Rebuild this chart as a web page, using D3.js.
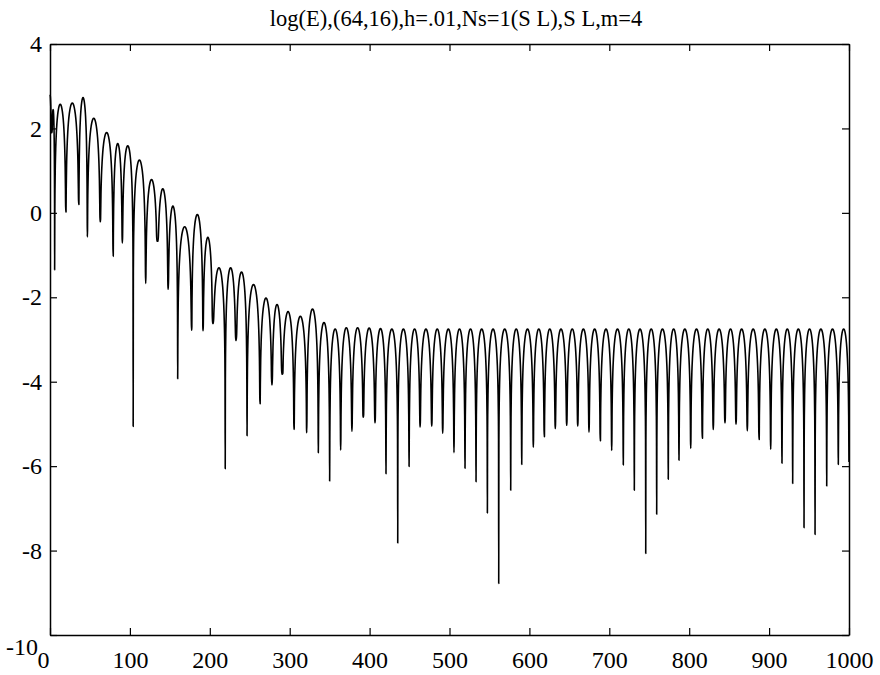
<!DOCTYPE html>
<html>
<head>
<meta charset="utf-8">
<script src="https://cdn.jsdelivr.net/npm/d3@7"></script>
<style>
  html, body { margin: 0; padding: 0; background: #fff; }
  svg { display: block; }
  .tick text { font-family: "Liberation Serif", "Times New Roman", serif; }
</style>
</head>
<body>
<svg id="chart" width="880" height="675"></svg>
<script>
// ---- data ----
const titleText = "log(E),(64,16),h=.01,Ns=1(S L),S L,m=4";
const xTicks = [0, 100, 200, 300, 400, 500, 600, 700, 800, 900, 1000];
const yTicks = [4, 2, 0, -2, -4, -6, -8, -10];

// start of the curve
const startX = 0;
const startY = 2.8;

// x position of each sharp minimum (dip) of log(E)
const dipX = [2.0, 5.8, 19.8, 36.0, 46.7, 62.8, 79.0, 90.5, 104.1, 119.7, 134.5, 147.8, 159.8,
  177.3, 191.5, 203.6, 219.3, 232.8, 246.6, 262.8, 277.8, 290.5, 305.4, 321.3, 335.8, 350.0,
  363.8, 377.9, 392.1, 406.8, 420.5, 435.2, 449.4, 463.2, 477.8, 491.5, 505.6, 519.4, 533.2,
  547.4, 561.6, 576.6, 590.4, 604.9, 618.6, 632.4, 646.7, 660.5, 674.6, 688.7, 703.0, 717.5,
  731.3, 745.6, 759.3, 773.8, 787.2, 801.9, 816.4, 830.1, 844.8, 858.6, 872.7, 887.4, 902.0,
  916.1, 929.5, 943.7, 957.5, 972.1, 986.6, 1000];

// value of log(E) at each dip
const dipY = [1.9, -1.35, 0.02, 0.2, -0.57, -0.21, -1.03, -0.71, -5.06, -1.67, -0.67, -1.81, -3.93,
  -2.78, -2.79, -2.62, -6.06, -3.02, -5.28, -4.52, -4.07, -3.82, -5.13, -5.21, -5.68, -6.35,
  -5.62, -5.17, -4.84, -4.97, -6.18, -7.82, -6.01, -5.07, -5.05, -5.22, -5.68, -6.05, -6.37,
  -7.11, -8.78, -6.57, -5.96, -5.55, -5.30, -5.11, -5.03, -5.05, -5.19, -5.40, -5.63, -5.97,
  -6.57, -8.07, -7.14, -6.31, -5.86, -5.58, -5.34, -5.13, -4.97, -5.00, -5.16, -5.37, -5.60,
  -5.93, -6.41, -7.46, -7.62, -6.47, -5.96, -5.9];

// top of each arch between two consecutive dips
const archPeak = [2.45, 2.57, 2.60, 2.73, 2.24, 1.90, 1.64, 1.59, 1.25, 0.79, 0.57, 0.16, -0.33,
  -0.04, -0.58, -1.30, -1.30, -1.40, -1.70, -2.02, -2.17, -2.34, -2.45, -2.28, -2.60, -2.75,
  -2.72, -2.72, -2.73, -2.74, -2.75, -2.75, -2.75, -2.75, -2.75, -2.75, -2.75, -2.75, -2.75,
  -2.75, -2.75, -2.75, -2.75, -2.75, -2.75, -2.75, -2.75, -2.75, -2.75, -2.75, -2.75, -2.75,
  -2.75, -2.75, -2.75, -2.75, -2.75, -2.75, -2.75, -2.75, -2.75, -2.75, -2.75, -2.75, -2.75,
  -2.75, -2.75, -2.75, -2.75, -2.75, -2.75];

// shape of one arch: fraction of arch width -> drop below the top
const archFrac = [0.015, 0.03, 0.06, 0.10, 0.15, 0.20, 0.27, 0.35, 0.43, 0.50];
const archDrop = [2.65, 2.05, 1.46, 1.02, 0.69, 0.46, 0.25, 0.10, 0.02, 0.00];

// ---- build the polyline points from the read values ----
const pts = [];
pts.push([startX, startY]);
{
  const w = 2 * (dipX[0] - startX);
  for (let j = archFrac.length - 2; j >= 0; j--) {
    pts.push([dipX[0] - archFrac[j] * w, Math.max(startY - archDrop[j], dipY[0])]);
  }
  pts.push([dipX[0], dipY[0]]);
}
for (let i = 0; i < dipX.length - 1; i++) {
  const xa = dipX[i], xb = dipX[i + 1], w = xb - xa, p = archPeak[i];
  for (let j = 0; j < archFrac.length; j++) {
    pts.push([xa + archFrac[j] * w, Math.max(p - archDrop[j], dipY[i])]);
  }
  for (let j = archFrac.length - 2; j >= 0; j--) {
    pts.push([xb - archFrac[j] * w, Math.max(p - archDrop[j], dipY[i + 1])]);
  }
  pts.push([xb, dipY[i + 1]]);
}

// ---- layout ----
const svg = d3.select("#chart");
const L = 50, R = 849, T = 44, B = 635;
const x = d3.scaleLinear().domain([0, 1000]).range([L, R]);
const y = d3.scaleLinear().domain([-10, 4]).range([B, T]);

const font = "'Liberation Serif', 'Times New Roman', serif";
const plain = d => String(d);   // hyphen-minus as in the reference

// title
svg.append("text")
  .attr("x", 456)
  .attr("y", 26)
  .attr("text-anchor", "middle")
  .attr("font-family", font)
  .attr("font-size", 22.5)
  .attr("fill", "#000")
  .text(titleText);

// data line
const line = d3.line().x(d => x(d[0])).y(d => y(d[1])).curve(d3.curveMonotoneX);
svg.append("path")
  .datum(pts)
  .attr("d", line)
  .attr("fill", "none")
  .attr("stroke", "#000")
  .attr("stroke-width", 1.6)
  .attr("stroke-linejoin", "round");

// axes (inward ticks, box frame)
const tickLen = 7;
const gB = svg.append("g").attr("transform", `translate(0,${B})`)
  .call(d3.axisBottom(x).tickValues(xTicks).tickFormat(plain)
    .tickSizeInner(-tickLen).tickSizeOuter(0).tickPadding(16));
const gT = svg.append("g").attr("transform", `translate(0,${T})`)
  .call(d3.axisTop(x).tickValues(xTicks).tickFormat("")
    .tickSizeInner(-tickLen).tickSizeOuter(0));
const gL = svg.append("g").attr("transform", `translate(${L},0)`)
  .call(d3.axisLeft(y).tickValues(yTicks).tickFormat(plain)
    .tickSizeInner(-tickLen).tickSizeOuter(0).tickPadding(8));
const gR = svg.append("g").attr("transform", `translate(${R},0)`)
  .call(d3.axisRight(y).tickValues(yTicks).tickFormat("")
    .tickSizeInner(-tickLen).tickSizeOuter(0));

[gB, gT, gL, gR].forEach(g => {
  g.select(".domain").attr("stroke", "#000").attr("stroke-width", 1.5);
  g.selectAll(".tick line").attr("stroke", "#000").attr("stroke-width", 1.2);
  g.selectAll(".tick text")
    .attr("fill", "#000")
    .attr("font-family", font)
    .attr("font-size", 24);
});

// the corner labels sit as in the reference: "0" left of the axis, "-10" a little low
gB.selectAll(".tick").filter(d => d === 0).select("text").attr("dx", -7);
gL.selectAll(".tick").filter(d => d === -10).select("text").attr("y", 12).attr("x", -12);
</script>
</body>
</html>
